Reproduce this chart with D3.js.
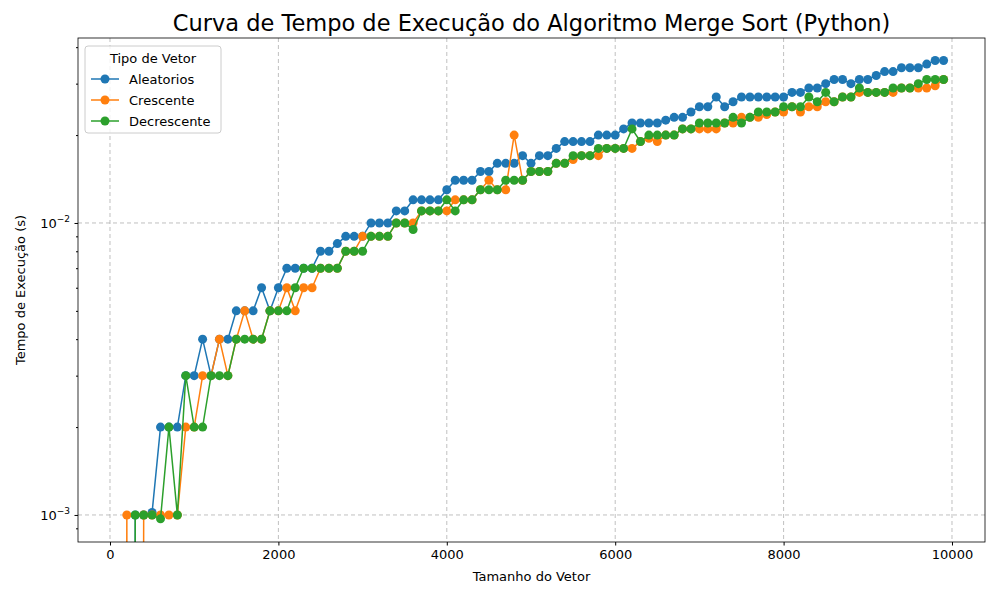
<!DOCTYPE html>
<html><head><meta charset="utf-8">
<script src="https://cdn.jsdelivr.net/npm/d3@7"></script>
<style>body{margin:0;background:#fff;font-family:"DejaVu Sans",sans-serif}</style>
</head><body><svg id="chart" width="1000" height="600"></svg>
<script>
// tamanhos 100..9900, tempos em ms (0 = abaixo da escala log)
const sizes = d3.range(100, 10000, 100);
const aleatorios = [0,0,1,1,1.02,2,2,2,3,3,4,3,4,4,5,5,5,6,5,6,7,7,7,7,8,8,8.5,9,9,9,10,10,10,11,11,12,12,12,12,13,14,14,14,15,15,16,16,16,17,16,17,17,18,19,19,19,19,20,20,20,21,22,22,22,22,22.5,23,23,24,25,25,27,25,26,27,27,27,27,27,27,28,28,29,29,30,31,31,30,31,31,32,33,33,34,34,34,35,36,36];
const crescente = [0,1,0,1,1,1,1,1,2,2,3,3,4,3,4,5,4,4,5,5,6,5,6,6,7,7,7,8,8,9,9,9,9,10,10,10,11,11,11,11,12,12,12,13,14,13,13,20,14,15,15,15,16,16,16.5,17,17,17,18,18,18,18,19,19.5,19,20,20,21,21,21,21,21,22,22,23,23,23,23.5,24,24,25,24,25,25,26,26,27,27,28,28,28,28,28,29,29,29,29,29.5,31];
const decrescente = [0,0,1,1,1,0.97,2,1,3,2,2,3,3,3,4,4,4,4,5,5,5,6,7,7,7,7,7,8,8,8,9,9,9,10,10,9.5,11,11,11,12,11,12,12,13,13,13,14,14,14,15,15,15,16,16,17,17,17,18,18,18,18,21,19,20,20,20,20,21,21,22,22,22,22,23,22,23,24,24,24,25,25,25,27,26,28,26,27,27,29,28,28,28,29,29,29,30,31,31,31];
const seriesNames = ["Aleatorios", "Crescente", "Decrescente"];
const colors = ["#1f77b4", "#ff7f0e", "#2ca02c"];
const xTicks = [0, 2000, 4000, 6000, 8000, 10000];

const svg = d3.select("#chart");
const m = {left: 78, right: 15, top: 38, bottom: 58};
const W = 1000, H = 600;
const x = d3.scaleLinear().domain([-380, 10392]).range([m.left, W - m.right]);
const y = d3.scaleLog().domain([0.000808, 0.0430]).range([H - m.bottom, m.top]);

svg.append("clipPath").attr("id", "clip").append("rect")
  .attr("x", m.left).attr("y", m.top)
  .attr("width", W - m.right - m.left).attr("height", H - m.bottom - m.top);

// grid
const g = svg.append("g");
xTicks.forEach(t => g.append("line").attr("x1", x(t)).attr("x2", x(t))
  .attr("y1", m.top).attr("y2", H - m.bottom)
  .attr("stroke", "#b0b0b0").attr("stroke-dasharray", "4,3").attr("stroke-opacity", 0.8));
[0.001, 0.01].forEach(t => g.append("line").attr("y1", y(t)).attr("y2", y(t))
  .attr("x1", m.left).attr("x2", W - m.right)
  .attr("stroke", "#b0b0b0").attr("stroke-dasharray", "4,3").attr("stroke-opacity", 0.8));

// data
const plot = svg.append("g").attr("clip-path", "url(#clip)");
const yv = v => v > 0 ? y(v / 1000) : H + 5000;
const line = d3.line().x((d, i) => x(sizes[i])).y(d => yv(d));
[aleatorios, crescente, decrescente].forEach((s, k) => {
  plot.append("path").datum(s).attr("d", line).attr("fill", "none")
    .attr("stroke", colors[k]).attr("stroke-width", 1.5);
  plot.selectAll(null).data(s.map((v, i) => [sizes[i], v]).filter(d => d[1] > 0))
    .enter().append("circle").attr("cx", d => x(d[0])).attr("cy", d => yv(d[1]))
    .attr("r", 4.5).attr("fill", colors[k]);
});

// axes
svg.append("rect").attr("x", m.left).attr("y", m.top)
  .attr("width", W - m.right - m.left).attr("height", H - m.bottom - m.top)
  .attr("fill", "none").attr("stroke", "#000").attr("stroke-width", 0.8);
const xa = svg.append("g").attr("transform", `translate(0,${H - m.bottom})`)
  .call(d3.axisBottom(x).tickValues(xTicks).tickSize(3.5).tickPadding(4).tickFormat(d3.format("d")));
xa.select(".domain").remove();
const minor = [];
for (let e = -4; e <= -1; e++) for (let k = 2; k <= 9; k++) {
  const v = k * Math.pow(10, e); if (v > 0.000808 && v < 0.043) minor.push(v);
}
const ym = svg.append("g").attr("transform", `translate(${m.left},0)`)
  .call(d3.axisLeft(y).tickValues(minor).tickSize(2).tickFormat(""));
ym.select(".domain").remove();
const ya = svg.append("g").attr("transform", `translate(${m.left},0)`)
  .call(d3.axisLeft(y).tickValues([0.001, 0.01]).tickSize(3.5).tickPadding(4).tickFormat(""));
ya.select(".domain").remove();
[0.001, 0.01].forEach((t, i) => {
  const tx = svg.append("text").attr("x", m.left - 8).attr("y", y(t) + 5)
    .attr("text-anchor", "end").attr("font-size", 13);
  tx.append("tspan").text("10");
  tx.append("tspan").attr("dy", -6).attr("font-size", 9).text(i ? "−2" : "−3");
});
svg.selectAll(".tick text").attr("font-size", 13).attr("font-family", "DejaVu Sans").attr("fill", "#000");

svg.append("text").attr("x", (m.left + W - m.right) / 2).attr("y", 581)
  .attr("text-anchor", "middle").attr("font-size", 13).text("Tamanho do Vetor");
svg.append("text").attr("transform", `translate(25,${(m.top + H - m.bottom) / 2}) rotate(-90)`)
  .attr("text-anchor", "middle").attr("font-size", 13).text("Tempo de Execução (s)");
svg.append("text").attr("x", (m.left + W - m.right) / 2).attr("y", 31)
  .attr("text-anchor", "middle").attr("font-size", 22.5).text("Curva de Tempo de Execução do Algoritmo Merge Sort (Python)");

// legend
const lg = svg.append("g").attr("transform", "translate(85,46)");
lg.append("rect").attr("width", 136).attr("height", 87).attr("rx", 3)
  .attr("fill", "#fff").attr("fill-opacity", 0.8).attr("stroke", "#ccc");
lg.append("text").attr("x", 68).attr("y", 17).attr("text-anchor", "middle").attr("font-size", 13).text("Tipo de Vetor");
seriesNames.forEach((n, k) => {
  const yy = 33 + k * 21;
  lg.append("line").attr("x1", 6).attr("x2", 34).attr("y1", yy).attr("y2", yy)
    .attr("stroke", colors[k]).attr("stroke-width", 1.5);
  lg.append("circle").attr("cx", 20).attr("cy", yy).attr("r", 4.5).attr("fill", colors[k]);
  lg.append("text").attr("x", 44).attr("y", yy + 4.5).attr("font-size", 13).text(n);
});
</script></body></html>
